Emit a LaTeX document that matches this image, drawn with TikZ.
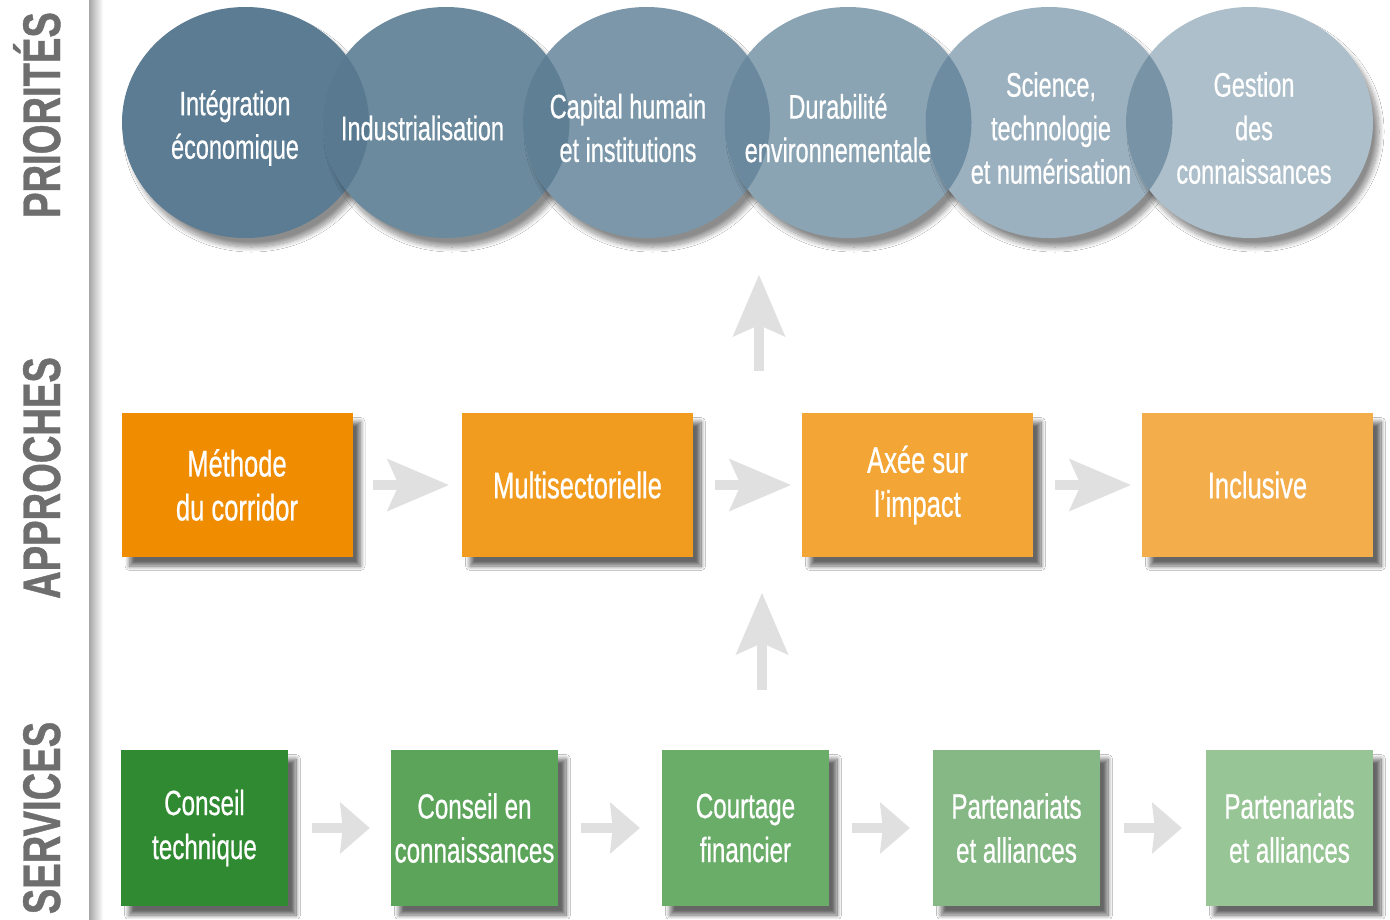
\documentclass[tikz,border=0pt]{standalone}
\usepackage{fontspec}
\setmainfont{Liberation Sans}[FakeStretch=0.69,FakeBold=0.6]
\newfontfamily\sidefont{Liberation Sans}[FakeStretch=0.72,FakeBold=0.8]
\usetikzlibrary{arrows.meta,shadows.blur}

% palette
\definecolor{cA}{HTML}{5B7C93}
\definecolor{cB}{HTML}{6B8A9D}
\definecolor{cC}{HTML}{7B97A9}
\definecolor{cD}{HTML}{8BA4B4}
\definecolor{cE}{HTML}{9CB1BF}
\definecolor{cF}{HTML}{ADBFCA}
\definecolor{lAB}{HTML}{587990}
\definecolor{lBC}{HTML}{5F7F95}
\definecolor{lCD}{HTML}{6A899E}
\definecolor{lDE}{HTML}{6E8CA1}
\definecolor{lEF}{HTML}{7893A6}
\definecolor{oA}{HTML}{EF8C00}
\definecolor{oB}{HTML}{F29C1F}
\definecolor{oC}{HTML}{F3A535}
\definecolor{oD}{HTML}{F4AD4B}
\definecolor{gA}{HTML}{308A31}
\definecolor{gB}{HTML}{5BA45A}
\definecolor{gC}{HTML}{6AAD69}
\definecolor{gD}{HTML}{85B884}
\definecolor{gE}{HTML}{98C596}
\definecolor{arrowgray}{HTML}{E0E0E0}
\definecolor{labelgray}{HTML}{6E6E6E}

\begin{document}
\begin{tikzpicture}[x=1pt,y=-1pt,
  boxshadow/.style={blur shadow={shadow xshift=8pt,shadow yshift=-9pt,
      shadow opacity=60,shadow blur radius=4.5pt,shadow blur steps=12}},
  circshadow/.style={blur shadow={shadow xshift=6pt,shadow yshift=-9pt,
      shadow opacity=45,shadow blur radius=5pt,shadow blur steps=12}},
  prio/.style={text=white,align=center,inner sep=0pt,
      font=\fontsize{34}{43.5}\selectfont},
  appbox/.style={rectangle,minimum width=231pt,minimum height=144pt,
      inner sep=0pt,text=white,align=center,boxshadow,
      font=\fontsize{37}{44}\selectfont},
  svcbox/.style={rectangle,minimum width=167pt,minimum height=156pt,
      inner sep=0pt,text=white,align=center,boxshadow,
      font=\fontsize{35}{44}\selectfont},
  flow/.style={line width=10pt,draw=arrowgray,
      -{Stealth[length=62pt,width=53pt,inset=12pt,line width=0pt]}},
  svcflow/.style={line width=10pt,draw=arrowgray,
      -{Stealth[length=30pt,width=52pt,inset=3pt,line width=0pt]}},
  sidelabel/.style={text=labelgray,rotate=90,anchor=base,inner sep=0pt,
      font=\sidefont\bfseries\fontsize{53}{53}\selectfont}]
\useasboundingbox (0,0) rectangle (1390,919);
\fill[white] (0,0) rectangle (1390,919);

% separator strip beside the row labels
\shade[left color=gray!70,right color=white] (89,0) rectangle (103,919);

% row labels
\node[sidelabel] (lprio) at (60,115) {PRIORITÉS};
\node[sidelabel] (lappr) at (60,478) {APPROCHES};
\node[sidelabel] (lserv) at (60,818) {SERVICES};

% priority circles
\coordinate (p1) at (245.5,122.5);
\coordinate (p2) at (446,122.5);
\coordinate (p3) at (646.5,122.5);
\coordinate (p4) at (848,122.5);
\coordinate (p5) at (1049,122.5);
\coordinate (p6) at (1249.5,122.5);
\tikzset{rr/.style={x radius=123.5,y radius=115.5}}
\fill[cA,circshadow] (p1) ellipse [rr];
\fill[cB,circshadow] (p2) ellipse [rr];
\begin{scope}\clip (p1) ellipse [rr]; \fill[lAB] (p2) ellipse [rr];\end{scope}
\fill[cC,circshadow] (p3) ellipse [rr];
\begin{scope}\clip (p2) ellipse [rr]; \fill[lBC] (p3) ellipse [rr];\end{scope}
\fill[cD,circshadow] (p4) ellipse [rr];
\begin{scope}\clip (p3) ellipse [rr]; \fill[lCD] (p4) ellipse [rr];\end{scope}
\fill[cE,circshadow] (p5) ellipse [rr];
\begin{scope}\clip (p4) ellipse [rr]; \fill[lDE] (p5) ellipse [rr];\end{scope}
\fill[cF,circshadow] (p6) ellipse [rr];
\begin{scope}\clip (p5) ellipse [rr]; \fill[lEF] (p6) ellipse [rr];\end{scope}

\node[prio] (t1) at (235,128) {Intégration\\économique};
\node[prio] (t2) at (422.5,128) {Industrialisation};
\node[prio] (t3) at (628,128) {Capital humain\\et institutions};
\node[prio] (t4) at (838,128) {Durabilité\\environnementale};
\node[prio] (t5) at (1051,128) {Science,\\technologie\\et numérisation};
\node[prio] (t6) at (1254,128) {Gestion\\des\\connaissances};

% approaches
\node[appbox,fill=oA] (a1) at (237,485) {Méthode\\du corridor};
\node[appbox,fill=oB] (a2) at (577.5,485) {Multisectorielle};
\node[appbox,fill=oC] (a3) at (917.5,485) {Axée sur\\l'impact};
\node[appbox,fill=oD] (a4) at (1257.5,485) {Inclusive};

% services
\node[svcbox,fill=gA] (s1) at (204.5,828) {Conseil\\technique};
\node[svcbox,fill=gB] (s2) at (474.5,828) {Conseil en\\connaissances};
\node[svcbox,fill=gC] (s3) at (745.5,828) {Courtage\\financier};
\node[svcbox,fill=gD] (s4) at (1016.5,828) {Partenariats\\et alliances};
\node[svcbox,fill=gE] (s5) at (1289.5,828) {Partenariats\\et alliances};

% flow between approaches
\draw[flow,shorten <=20pt,shorten >=13pt] (a1.east) -- (a2.west);
\draw[flow,shorten <=22pt,shorten >=11pt] (a2.east) -- (a3.west);
\draw[flow,shorten <=22pt,shorten >=11pt] (a3.east) -- (a4.west);

% flow between services
\draw[svcflow,shorten <=24pt,shorten >=21pt] (s1.east) -- (s2.west);
\draw[svcflow,shorten <=23pt,shorten >=22pt] (s2.east) -- (s3.west);
\draw[svcflow,shorten <=23pt,shorten >=23pt] (s3.east) -- (s4.west);
\draw[svcflow,shorten <=24pt,shorten >=24pt] (s4.east) -- (s5.west);

% upward links between the rows
\coordinate (upAfrom) at (759,371);
\coordinate (upAto) at (759,275);
\coordinate (upBfrom) at (762,690);
\coordinate (upBto) at (762,593);
\draw[flow] (upAfrom) -- (upAto);
\draw[flow] (upBfrom) -- (upBto);
\end{tikzpicture}
\end{document}
